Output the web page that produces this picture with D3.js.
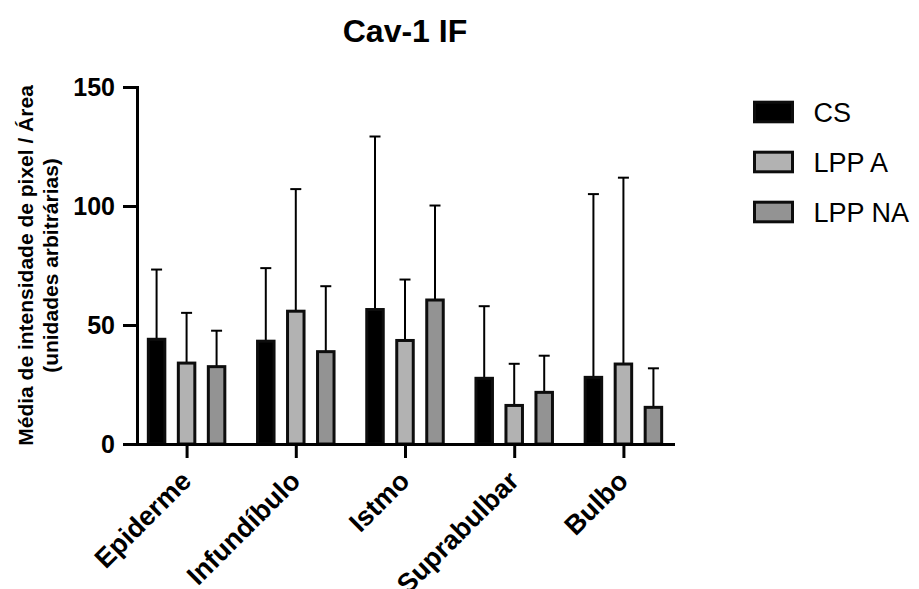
<!DOCTYPE html>
<html>
<head>
<meta charset="utf-8">
<script src="https://cdn.jsdelivr.net/npm/d3@7"></script>
<style>
  html, body { margin: 0; padding: 0; background: #fff; }
  svg { display: block; font-family: "Liberation Sans", Arial, sans-serif; }
</style>
</head>
<body>
<svg id="chart"></svg>
<script>
// values
const categories = ["Epiderme", "Infundíbulo", "Istmo", "Suprabulbar", "Bulbo"];
const seriesNames = ["CS", "LPP A", "LPP NA"];
const csMean = [44, 43.2, 56.5, 27.6, 28];
const csSD = [29.3, 30.7, 72.7, 30.3, 77];
const lppAMean = [34, 55.8, 43.5, 16.2, 33.6];
const lppASD = [21.1, 51.3, 25.6, 17.5, 78.3];
const lppNAMean = [32.5, 38.8, 60.5, 21.7, 15.4];
const lppNASD = [15.1, 27.5, 39.7, 15.4, 16.4];
const yTicks = [0, 50, 100, 150];
const colors = ["#000000", "#b2b2b2", "#939393"];

const width = 919;
const height = 589;
const plot = { left: 137, right: 673, top: 87, bottom: 444 };

const means = [csMean, lppAMean, lppNAMean];
const sds = [csSD, lppASD, lppNASD];

const rows = [];
seriesNames.forEach((s, si) => {
  categories.forEach((c, ci) => {
    rows.push({ series: s, si: si, cat: c, mean: means[si][ci], sd: sds[si][ci] });
  });
});

const svg = d3.select("#chart")
  .attr("width", width)
  .attr("height", height);

const x = d3.scalePoint()
  .domain(categories)
  .range([plot.left, plot.right])
  .padding(0.454);

const x1 = d3.scaleBand()
  .domain(seriesNames)
  .range([-45, 45])
  .paddingInner(0.45)
  .paddingOuter(0.225);

const y = d3.scaleLinear()
  .domain([0, 150])
  .range([plot.bottom, plot.top]);

// title
svg.append("text")
  .attr("x", (plot.left + plot.right) / 2)
  .attr("y", 42)
  .attr("text-anchor", "middle")
  .attr("font-size", 32)
  .attr("font-weight", "bold")
  .text("Cav-1 IF");

// error bars (upper only)
const err = svg.append("g")
  .attr("stroke", "#000")
  .attr("stroke-width", 2);

err.selectAll("line.whisker")
  .data(rows)
  .join("line")
  .attr("class", "whisker")
  .attr("x1", d => x(d.cat) + x1(d.series) + x1.bandwidth() / 2)
  .attr("x2", d => x(d.cat) + x1(d.series) + x1.bandwidth() / 2)
  .attr("y1", d => y(d.mean))
  .attr("y2", d => y(d.mean + d.sd));

err.selectAll("line.cap")
  .data(rows)
  .join("line")
  .attr("class", "cap")
  .attr("x1", d => x(d.cat) + x1(d.series) + x1.bandwidth() / 2 - 5.5)
  .attr("x2", d => x(d.cat) + x1(d.series) + x1.bandwidth() / 2 + 5.5)
  .attr("y1", d => y(d.mean + d.sd))
  .attr("y2", d => y(d.mean + d.sd));

// bars
svg.append("g")
  .selectAll("rect")
  .data(rows)
  .join("rect")
  .attr("x", d => x(d.cat) + x1(d.series))
  .attr("width", x1.bandwidth())
  .attr("y", d => y(d.mean))
  .attr("height", d => y(0) - y(d.mean))
  .attr("fill", d => colors[d.si])
  .attr("stroke", "#0d0d0d")
  .attr("stroke-width", 3);

// y axis
const yAxis = svg.append("g")
  .attr("transform", `translate(${plot.left},0)`)
  .call(d3.axisLeft(y).tickValues(yTicks).tickSize(14).tickSizeOuter(0).tickPadding(8));
yAxis.select(".domain").attr("stroke-width", 3).attr("stroke-linecap", "square");
yAxis.selectAll(".tick line").attr("stroke-width", 3);
yAxis.selectAll(".tick text")
  .attr("font-size", 25)
  .attr("font-weight", "bold")
  .attr("font-family", "'Liberation Sans', Arial, sans-serif")
  .attr("fill", "#000");

// x axis
const xAxis = svg.append("g")
  .attr("transform", `translate(0,${plot.bottom})`)
  .call(d3.axisBottom(x).tickSize(14).tickSizeOuter(0));
xAxis.select(".domain").attr("stroke-width", 3).attr("stroke-linecap", "square");
xAxis.selectAll(".tick line").attr("stroke-width", 3);
xAxis.selectAll(".tick text")
  .attr("font-size", 27)
  .attr("font-weight", "bold")
  .attr("font-family", "'Liberation Sans', Arial, sans-serif")
  .attr("fill", "#000")
  .attr("text-anchor", "end")
  .attr("y", 0)
  .attr("dy", "0.35em")
  .attr("transform", "translate(-1,32) rotate(-45)");

// y axis title
const yTitle = svg.append("text")
  .attr("transform", `translate(33,${(plot.top + plot.bottom) / 2}) rotate(-90)`)
  .attr("text-anchor", "middle")
  .attr("font-size", 21)
  .attr("font-weight", "bold");
yTitle.append("tspan").attr("x", 0).attr("y", 0).text("Média de intensidade de pixel / Área");
yTitle.append("tspan").attr("x", 0).attr("y", 25).text("(unidades arbitrárias)");

// legend
const legend = svg.append("g")
  .selectAll("g")
  .data(seriesNames)
  .join("g")
  .attr("transform", (d, i) => `translate(754.5,${102.2 + i * 50})`);

legend.append("rect")
  .attr("width", 38)
  .attr("height", 19.6)
  .attr("fill", (d, i) => colors[i])
  .attr("stroke", "#0d0d0d")
  .attr("stroke-width", 3);

legend.append("text")
  .attr("x", 59)
  .attr("y", 20)
  .attr("font-size", 27)
  .text(d => d);
</script>
</body>
</html>
